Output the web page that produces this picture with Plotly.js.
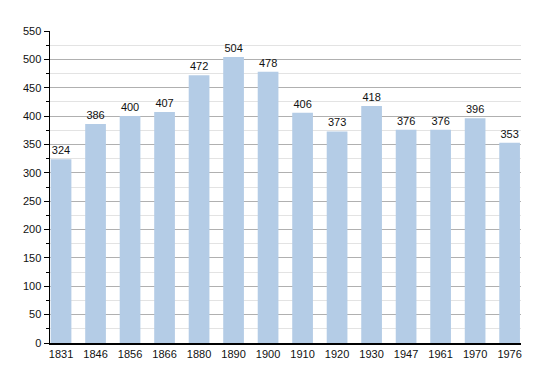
<!DOCTYPE html>
<html>
<head>
<meta charset="utf-8">
<script src="https://cdn.plot.ly/plotly-3.0.1.min.js"></script>
<style>html,body{margin:0;padding:0;background:#fff;}#chart{width:550px;height:373px;}</style>
</head>
<body>
<div id="chart"></div>
<script>
const years = ["1831","1846","1856","1866","1880","1890","1900","1910","1920","1930","1947","1961","1970","1976"];
const population = [324,386,400,407,472,504,478,406,373,418,376,376,396,353];

const trace = {
  type: 'bar',
  x: years,
  y: population,
  text: population.map(String),
  textposition: 'outside',
  cliponaxis: false,
  textfont: {family: 'Liberation Sans, Arial, sans-serif', size: 11, color: '#111'},
  marker: {color: '#b4cce6', line: {width: 0}},
  hoverinfo: 'x+y'
};

const layout = {
  width: 550, height: 373,
  margin: {l: 50, r: 29, t: 31, b: 30},
  paper_bgcolor: '#fff', plot_bgcolor: '#fff',
  bargap: 0.4,
  showlegend: false,
  font: {family: 'Liberation Sans, Arial, sans-serif', size: 11, color: '#111'},
  xaxis: {
    type: 'category',
    range: [-0.32, 13.33],
    showline: true, linecolor: '#000', linewidth: 1.5,
    showgrid: false, ticks: '', zeroline: false,
    tickfont: {size: 11, color: '#111'}
  },
  yaxis: {
    range: [0, 550],
    dtick: 50, tick0: 0,
    showline: true, linecolor: '#000', linewidth: 1.5,
    showgrid: true, gridcolor: '#b0b0b0', gridwidth: 1,
    ticks: 'outside', ticklen: 5, tickcolor: '#000',
    zeroline: false,
    tickfont: {size: 11, color: '#111'},
    minor: {dtick: 25, showgrid: true, gridcolor: '#e3e3e3', ticks: 'outside', ticklen: 3, tickcolor: '#000'}
  }
};

Plotly.newPlot('chart', [trace], layout, {staticPlot: true, displayModeBar: false});
</script>
</body>
</html>
